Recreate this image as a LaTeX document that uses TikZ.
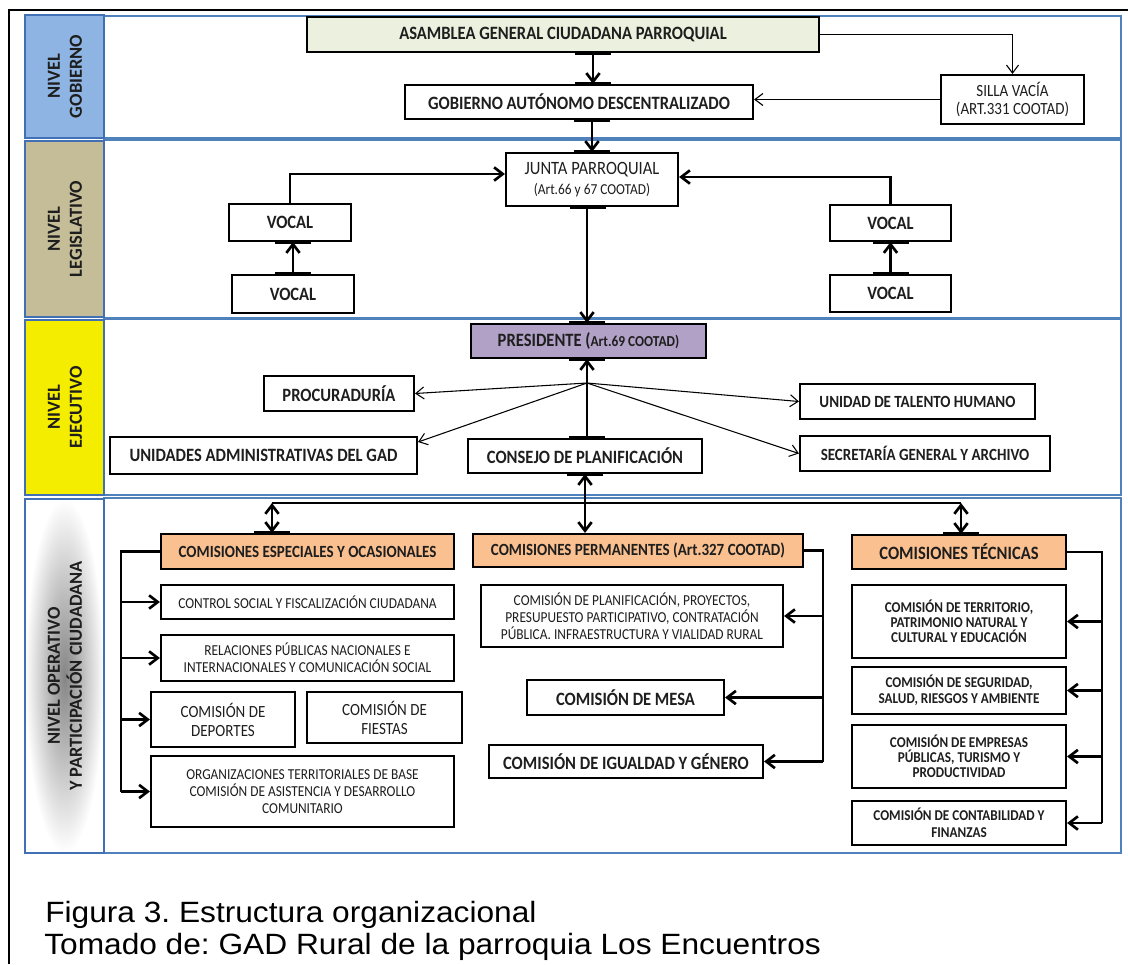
\documentclass[tikz,border=0pt]{standalone}
\usepackage{fontspec}
\setmainfont{Carlito}[FakeStretch=0.88]
\newfontfamily\lblfont{Carlito}
\newfontfamily\capfont{Liberation Sans}[FakeStretch=1.08]
\usetikzlibrary{arrows.meta,calc}
\frenchspacing
\definecolor{gobblue}{RGB}{141,180,226}
\definecolor{legtan}{RGB}{196,189,151}
\definecolor{ejeyel}{RGB}{245,237,0}
\definecolor{panelblue}{RGB}{79,129,189}
\definecolor{lblborder}{RGB}{65,113,180}
\definecolor{asamgreen}{RGB}{235,241,222}
\definecolor{prespurple}{RGB}{178,161,199}
\definecolor{comorange}{RGB}{250,192,144}
\definecolor{txt}{RGB}{30,30,30}
\newcommand{\mkbox}[7]{\node[box,#6,minimum width={(#4-#2)*0.75pt},minimum height={(#5-#3)*0.75pt}] (#1) at ({(#2+#4)/2},{(#3+#5)/2}) {#7};}
\tikzset{
  box/.style={draw=black, line width=1.6pt, fill=white, inner sep=1pt, align=center, text=txt},
  fM/.style={font=\fontsize{14.1}{16}\selectfont\bfseries},
  fS/.style={font=\fontsize{12.8}{14}\selectfont\bfseries},
  fT/.style={font=\fontsize{11.25}{11.3}\selectfont\bfseries},
  rM/.style={font=\fontsize{14.1}{15}\selectfont},
  rS/.style={font=\fontsize{12.8}{14.3}\selectfont},
  rT/.style={font=\fontsize{11.4}{12.7}\selectfont},
  lblbox/.style={draw=lblborder, line width=1.8pt},
  lbltext/.style={rotate=90, align=center, text=txt, font=\lblfont\fontsize{13.8}{16.5}\selectfont\bfseries},
  panel/.style={draw=panelblue, line width=1pt},
  thk/.style={line width=2pt, -{Straight Barb[length=6.5pt,width=10pt]}},
  thkboth/.style={line width=2pt, {Straight Barb[length=6.5pt,width=10pt]}-{Straight Barb[length=6.5pt,width=10pt]}},
  thkline/.style={line width=2pt},
  thn/.style={line width=0.8pt, -{Straight Barb[length=6pt,width=9pt]}},
  tickmark/.style={line width=3pt},
  captext/.style={anchor=base west, inner sep=0, font=\capfont\fontsize{22}{26}\selectfont\frenchspacing},
}
\begin{document}
\begin{tikzpicture}[x=0.75pt,y=-0.75pt]
\useasboundingbox (0,0) rectangle (1128,964);
% outer frame
\draw[line width=1.5pt] (9,964) -- (9,10) -- (1128,10);
% panels
\draw[panel] (104,16) rectangle (1121,138);
\draw[panel] (104,140) rectangle (1121,318);
\draw[panel] (104,319) rectangle (1121,495);
\draw[panel] (104,498) rectangle (1121,853);
% level labels
\filldraw[lblbox, fill=gobblue] (25,15) rectangle (104,138);
\filldraw[lblbox, fill=legtan] (25,141) rectangle (104,317);
\filldraw[lblbox, fill=ejeyel] (25,320) rectangle (104,495);
\shade[inner color=black!48, outer color=white] (25,499) rectangle (104,853);
\draw[lblbox] (25,499) rectangle (104,853);
\node[lbltext] (l1) at (65,76.5) {NIVEL\\GOBIERNO};
\node[lbltext] (l2) at (65,229) {NIVEL\\LEGISLATIVO};
\node[lbltext] (l3) at (65,407.5) {NIVEL\\EJECUTIVO};
\node[lbltext] (l4) at (65,676) {NIVEL OPERATIVO\\Y PARTICIPACIÓN CIUDADANA};
% nivel gobierno
\mkbox{asam}{307}{17}{819}{52}{fM,fill=asamgreen}{ASAMBLEA GENERAL CIUDADANA PARROQUIAL}
\mkbox{gob}{405}{85}{753}{119}{fM}{GOBIERNO AUTÓNOMO DESCENTRALIZADO}
\mkbox{silla}{941}{75}{1084}{124}{rS,font=\fontsize{12.8}{13.5}\selectfont}{SILLA VACÍA\\(ART.331 COOTAD)}
% nivel legislativo
\mkbox{junta}{506}{153}{678}{206}{rM}{JUNTA PARROQUIAL\\{\fontsize{11.4}{13}\selectfont(Art.66 y 67 COOTAD)}}
\mkbox{vocLu}{229}{204}{351}{241}{fM}{VOCAL}
\mkbox{vocLl}{232}{275}{354}{313}{fM}{VOCAL}
\mkbox{vocRu}{830}{205}{951}{241}{fM}{VOCAL}
\mkbox{vocRl}{830}{275}{951}{312}{fM}{VOCAL}
% nivel ejecutivo
\mkbox{pres}{471}{324}{706}{358}{fM,fill=prespurple}{PRESIDENTE ({\fontsize{11.4}{13}\selectfont Art.69 COOTAD)}}
\mkbox{proc}{264}{376}{414}{411}{fM}{PROCURADURÍA}
\mkbox{unid}{110}{437}{417}{474}{fM}{UNIDADES ADMINISTRATIVAS DEL GAD}
\mkbox{cons}{468}{439}{702}{473}{fM}{CONSEJO DE PLANIFICACIÓN}
\mkbox{tal}{800}{384}{1035}{419}{fS}{UNIDAD DE TALENTO HUMANO}
\mkbox{secr}{800}{436}{1050}{471}{fS}{SECRETARÍA GENERAL Y ARCHIVO}
% nivel operativo
\mkbox{esp}{161}{534}{454}{569}{fS,fill=comorange}{COMISIONES ESPECIALES Y OCASIONALES}
\mkbox{perm}{473}{534}{803}{567}{fS,fill=comorange}{COMISIONES PERMANENTES (Art.327 COOTAD)}
\mkbox{tec}{852}{535}{1066}{569}{fM,fill=comorange}{COMISIONES TÉCNICAS}
\mkbox{ctrl}{161}{585}{454}{619}{rT}{CONTROL SOCIAL Y FISCALIZACIÓN CIUDADANA}
\mkbox{rel}{161}{635}{454}{681}{rT}{RELACIONES PÚBLICAS NACIONALES E\\INTERNACIONALES Y COMUNICACIÓN SOCIAL}
\mkbox{dep}{151}{692}{295}{747}{rS}{COMISIÓN DE\\DEPORTES}
\mkbox{fies}{307}{692}{462}{743}{rS}{COMISIÓN DE\\FIESTAS}
\mkbox{org}{151}{756}{454}{827}{rT,font=\fontsize{11.4}{12.5}\selectfont}{ORGANIZACIONES TERRITORIALES DE BASE\\COMISIÓN DE ASISTENCIA Y DESARROLLO\\COMUNITARIO}
\mkbox{plan}{481}{585}{783}{647}{rT}{COMISIÓN DE PLANIFICACIÓN, PROYECTOS,\\PRESUPUESTO PARTICIPATIVO, CONTRATACIÓN\\PÚBLICA. INFRAESTRUCTURA Y VIALIDAD RURAL}
\mkbox{mesa}{527}{680}{724}{715}{fM}{COMISIÓN DE MESA}
\mkbox{igu}{489}{745}{763}{778}{fM}{COMISIÓN DE IGUALDAD Y GÉNERO}
\mkbox{terr}{852}{585}{1066}{658}{fT}{COMISIÓN DE TERRITORIO,\\PATRIMONIO NATURAL Y\\CULTURAL Y EDUCACIÓN}
\mkbox{seg}{852}{667}{1066}{714}{fT,font=\fontsize{11.25}{12}\selectfont\bfseries}{COMISIÓN DE SEGURIDAD,\\SALUD, RIESGOS Y AMBIENTE}
\mkbox{emp}{852}{725}{1066}{788}{fT}{COMISIÓN DE EMPRESAS\\PÚBLICAS, TURISMO Y\\PRODUCTIVIDAD}
\mkbox{cont}{852}{801}{1066}{845}{fT,font=\fontsize{11.25}{12.5}\selectfont\bfseries}{COMISIÓN DE CONTABILIDAD Y\\FINANZAS}
% helper coordinates
\coordinate (xA) at (593,0);
\coordinate (xB) at (592,0);
\coordinate (yL) at (0,174);
\coordinate (yR) at (0,177);
\coordinate (hub) at (587,383);
\coordinate (yU) at (0,442);
\coordinate (yOp) at (0,503);
\coordinate (xE) at (272,0);
\coordinate (xT) at (961,0);
\coordinate (bxE) at (121,0);
\coordinate (bxP) at (823,0);
\coordinate (bxT) at (1102,0);
% gobierno connectors
\draw[thk] (asam.south -| xA) -- (gob.north -| xA);
\draw[thn] (asam.east) -| (silla.north);
\draw[thn] (silla.west) -- (silla.west -| gob.east);
\draw[thk] (gob.south -| xB) -- (junta.north -| xB);
% legislativo connectors
\draw[thk] (vocLu.north) |- (junta.west |- yL);
\draw[thk] (vocRu.north) |- (junta.east |- yR);
\draw[thk] (vocLl.north) -- (vocLu.south -| vocLl.north);
\draw[thk] (vocRl.north) -- (vocRu.south -| vocRl.north);
\draw[thk] (junta.south -| hub) -- (pres.north -| hub);
% ejecutivo connectors
\draw[thk] (cons.north -| hub) -- (pres.south -| hub);
\draw[thn] (hub) -- (proc.east);
\draw[thn] (hub) -- (unid.east |- yU);
\draw[thn] (hub) -- (tal.west);
\draw[thn] (hub) -- (secr.west);
% operativo connectors
\draw[thkboth] (cons.south) -- (cons.south |- perm.north);
\draw[thkline] (xE |- yOp) -- (xT |- yOp);
\draw[thkboth] (xE |- yOp) -- (esp.north -| xE);
\draw[thkboth] (xT |- yOp) -- (tec.north -| xT);
\draw[thkline] (esp.west) -| (bxE |- org.west);
\draw[thk] (bxE |- ctrl.west) -- (ctrl.west);
\draw[thk] (bxE |- rel.west) -- (rel.west);
\draw[thk] (bxE |- dep.west) -- (dep.west);
\draw[thk] (bxE |- org.west) -- (org.west);
\draw[thkline] (perm.east) -| (bxP |- igu.east);
\draw[thk] (bxP |- plan.east) -- (plan.east);
\draw[thk] (bxP |- mesa.east) -- (mesa.east);
\draw[thk] (bxP |- igu.east) -- (igu.east);
\draw[thkline] (tec.east) -| (bxT |- cont.east);
\draw[thk] (bxT |- terr.east) -- (terr.east);
\draw[thk] (bxT |- seg.east) -- (seg.east);
\draw[thk] (bxT |- emp.east) -- (emp.east);
\draw[thk] (bxT |- cont.east) -- (cont.east);
% connection ticks
\foreach \n/\x in {asam.south/593, gob.north/593, gob.south/592, junta.north/592, junta.south/588, pres.north/587, pres.south/587, cons.north/587, cons.south/585, esp.north/272, tec.north/961}{
  \draw[tickmark] ($(\n -| \x,0)+(-18,0)$) -- ($(\n -| \x,0)+(18,0)$);
}
\draw[tickmark] ($(vocLu.south -| vocLl.north)+(-18,0)$) -- ($(vocLu.south -| vocLl.north)+(18,0)$);
\draw[tickmark] ($(vocLl.north)+(-18,0)$) -- ($(vocLl.north)+(18,0)$);
\draw[tickmark] ($(vocRu.south)+(-18,0)$) -- ($(vocRu.south)+(18,0)$);
\draw[tickmark] ($(vocRl.north)+(-18,0)$) -- ($(vocRl.north)+(18,0)$);
% caption
\node[captext] (cap1) at (45,922) {Figura 3. Estructura organizacional};
\node[captext] (cap2) at (44,954) {Tomado de: GAD Rural de la parroquia Los Encuentros};
\end{tikzpicture}
\end{document}
